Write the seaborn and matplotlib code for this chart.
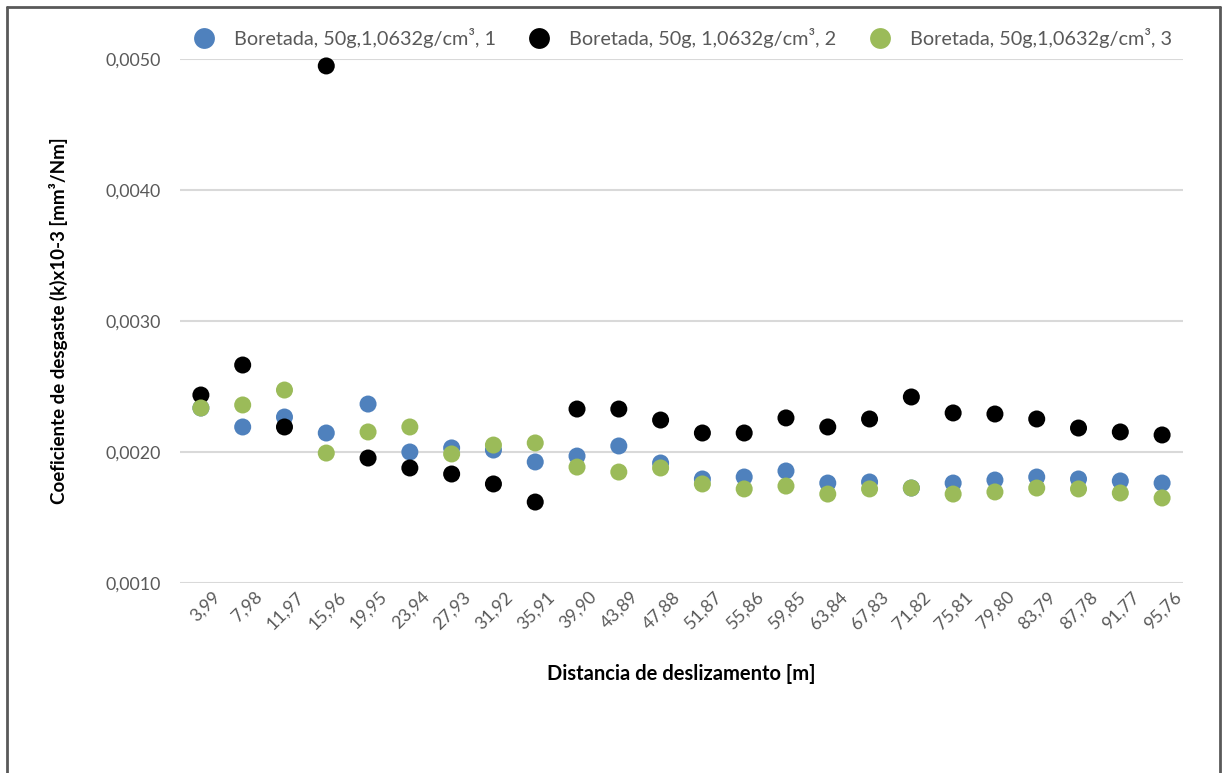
import matplotlib
matplotlib.use("Agg")
import matplotlib.pyplot as plt
from matplotlib.lines import Line2D
from matplotlib.transforms import ScaledTranslation
import pandas as pd
import seaborn as sns

# Sliding distance categories [m]
distancias = ["3,99", "7,98", "11,97", "15,96", "19,95", "23,94", "27,93", "31,92",
              "35,91", "39,90", "43,89", "47,88", "51,87", "55,86", "59,85", "63,84",
              "67,83", "71,82", "75,81", "79,80", "83,79", "87,78", "91,77", "95,76"]

# Wear coefficient for each of the three runs
serie_1 = [0.002336, 0.002191, 0.002267, 0.002145, 0.002366, 0.002000, 0.002031, 0.002015,
           0.001924, 0.001969, 0.002046, 0.001916, 0.001794, 0.001809, 0.001855, 0.001763,
           0.001771, 0.001725, 0.001763, 0.001786, 0.001809, 0.001794, 0.001779, 0.001763]
serie_2 = [0.002435, 0.002664, 0.002191, 0.004947, 0.001954, 0.001878, 0.001832, 0.001756,
           0.001618, 0.002328, 0.002328, 0.002244, 0.002145, 0.002145, 0.002260, 0.002191,
           0.002252, 0.002420, 0.002298, 0.002290, 0.002252, 0.002183, 0.002153, 0.002130]
serie_3 = [0.002336, 0.002359, 0.002473, 0.001992, 0.002153, 0.002191, 0.001985, 0.002053,
           0.002069, 0.001885, 0.001847, 0.001878, 0.001756, 0.001718, 0.001740, 0.001679,
           0.001718, 0.001725, 0.001679, 0.001695, 0.001725, 0.001718, 0.001687, 0.001649]

nomes = ["Boretada, 50g,1,0632g/cm³, 1",
         "Boretada, 50g, 1,0632g/cm³, 2",
         "Boretada, 50g,1,0632g/cm³, 3"]
cores = ["#4F81BD", "#000000", "#9BBB59"]

y_ticks = [0.0010, 0.0020, 0.0030, 0.0040, 0.0050]

df = pd.concat([
    pd.DataFrame({"dist": distancias, "k": vals, "serie": nome})
    for vals, nome in zip([serie_1, serie_2, serie_3], nomes)
], ignore_index=True)

sns.set_style("white")
plt.rcParams["font.family"] = ["Lato", "DejaVu Sans"]

fig = plt.figure(figsize=(12.23, 7.73), dpi=100)
ax = fig.add_axes([180 / 1223, 1 - 583 / 773, (1183 - 180) / 1223, (583 - 59) / 773])

sns.scatterplot(data=df, x="dist", y="k", hue="serie", hue_order=nomes,
                palette=cores, s=150, linewidth=0, ax=ax, legend=False,
                clip_on=False, zorder=3)

ax.set_xlim(-0.5, len(distancias) - 0.5)
ax.set_ylim(0.0010, 0.0050)
ax.set_yticks(y_ticks)
ax.set_yticklabels([f"{v:.4f}".replace(".", ",") for v in y_ticks])
ax.yaxis.grid(True, color="#D9D9D9", linewidth=1.5)
ax.xaxis.grid(False)
for s in ax.spines.values():
    s.set_visible(False)
ax.tick_params(axis="both", length=0, labelsize=12.8, labelcolor="#595959")
ax.tick_params(axis="y", pad=14)
ax.tick_params(axis="x", pad=4)
shift = ScaledTranslation(11 / 100, 0, fig.dpi_scale_trans)
for lbl in ax.get_xticklabels():
    lbl.set_rotation(45)
    lbl.set_ha("right")
    lbl.set_va("top")
    lbl.set_rotation_mode("anchor")
    lbl.set_transform(lbl.get_transform() + shift)

ax.set_xlabel("Distancia de deslizamento [m]", fontsize=14.5, fontweight="bold",
              color="#000000", labelpad=23)
ax.set_ylabel("Coeficiente de desgaste (k)x10-3 [mm³/Nm]", fontsize=13.5,
              fontweight="bold", color="#000000", labelpad=27)

handles = [Line2D([], [], marker="o", linestyle="none", markersize=15,
                  markerfacecolor=c, markeredgewidth=0) for c in cores]
fig.legend(handles, nomes, loc="center", bbox_to_anchor=(678 / 1223, 1 - 38 / 773),
           ncol=3, frameon=False, fontsize=14.3, handletextpad=0.5,
           columnspacing=1.2, labelcolor="#595959")

# chart frame
frame_kw = dict(color="#595959", linewidth=2, transform=fig.transFigure)
fig.add_artist(Line2D([7 / 1223, 7 / 1223], [0, 1 - 7 / 773], **frame_kw))
fig.add_artist(Line2D([7 / 1223, 1220 / 1223], [1 - 7 / 773, 1 - 7 / 773], **frame_kw))
fig.add_artist(Line2D([1220 / 1223, 1220 / 1223], [0, 1 - 7 / 773], **frame_kw))

fig.savefig("out.png", dpi=100, facecolor="white")
